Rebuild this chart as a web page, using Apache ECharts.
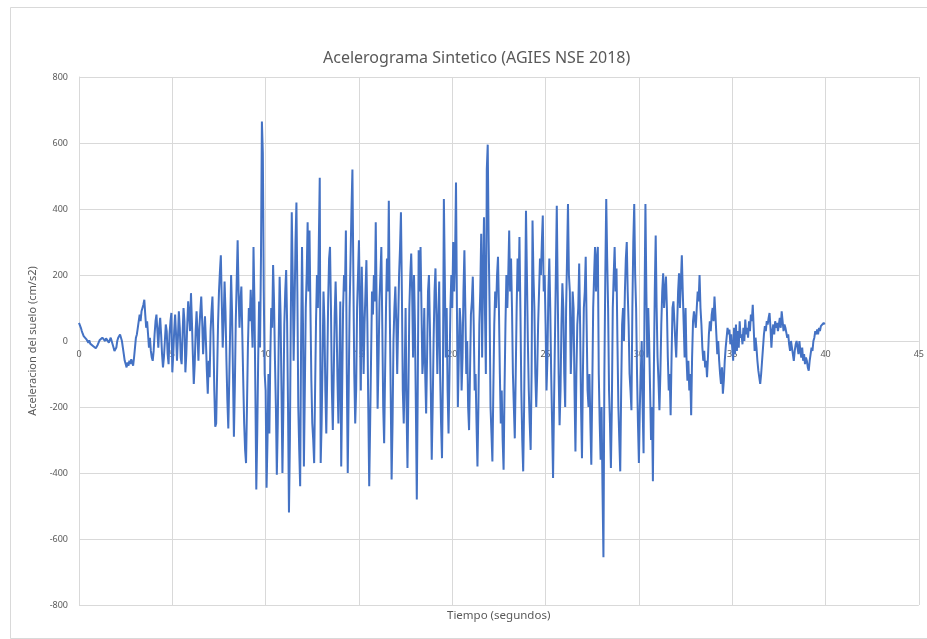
<!DOCTYPE html>
<html>
<head>
<meta charset="utf-8">
<script src="https://cdn.jsdelivr.net/npm/echarts@6/dist/echarts.min.js"></script>
<style>html,body{margin:0;padding:0;background:#fff}#c{width:927px;height:639px}</style>
</head>
<body>
<div id="c"></div>
<script>
// Sample step (s) and acceleration values (cm/s2), one array per 5 s
const DT = 0.05;
const seg0 = [55,50,40,30,22,15,10,12,5,0, -5,2,-8,-12,-5,-15,-10,-18,-22,-20, -12,-5,2,8,5,10,12,5,0,8, 12,5,-5,0,10,5,-10,-20,-30,-35, -20,0,10,15,20,10,0,-20,-40,-60, -70,-80,-65,-75,-60,-70,-55,-65,-75,-50, -20,10,20,40,60,80,60,90,100,110, 125,80,40,60,20,-20,10,-30,-50,-60, -30,20,60,80,30,-20,40,70,20,-40, -80,-50,0,50,30,-40,-70,20,60,85];
const seg1 = [-95,-40,30,80,20,-60,10,90,40,-50, -70,20,100,60,-95,-40,50,120,80,30, 145,60,-40,-130,-70,30,90,20,-60,40, 90,135,60,-40,20,75,0,-90,-160,-60, -110,30,90,135,20,-150,-260,-250,-100,50, 150,210,260,120,-20,60,180,90,-60,-180, -265,-120,40,200,90,-100,-290,-140,60,180, 305,150,40,120,165,20,-120,-250,-330,-370, -200,-20,100,60,155,70,-20,285,120,-150, -450,-280,-60,120,-20,250,665,570,150,-100];
const seg2 = [-150,-445,-300,-100,-280,-50,100,40,230,120, -60,-200,-405,-250,0,195,80,-150,-400,-200, 50,150,215,60,-200,-520,-300,80,390,200, -60,100,300,420,150,-200,-330,-440,0,285, 60,-380,-150,100,200,360,150,335,100,-120, -250,-300,-370,-150,60,200,100,300,495,-370, -250,-60,150,60,-150,-280,-100,120,250,285, 100,-150,-270,-100,80,180,60,-120,-250,-80, 120,-380,-150,100,200,150,335,-100,-400,-150, 100,250,400,520,200,-100,-250,-150,100,200];
const seg3 = [305,100,-150,225,80,-100,50,150,245,60, -200,-440,-250,-50,150,80,200,120,360,100, -205,-60,120,200,285,50,-200,-310,-100,100, 250,150,425,100,-150,-420,-250,0,100,165, 60,-100,50,200,280,390,150,-150,-250,-100, 100,-200,-385,-150,100,200,265,150,-50,200, 50,-200,-480,-150,275,150,285,100,-100,-50, 100,-100,-220,-50,150,200,50,-150,-360,-200, 0,150,220,80,-100,60,180,-100,-250,-355, -100,430,200,-50,100,-150,-280,-100,100,200];
const seg4 = [100,300,150,250,480,100,-200,-50,100,50, -150,-50,150,275,100,-100,0,-200,-270,-100, 80,120,195,50,-150,-100,-250,-380,-200,50, 150,325,-50,200,375,100,-100,520,595,300, 100,-200,-280,-365,-150,50,150,100,200,255, 100,-100,-250,-150,-300,-390,-150,50,200,100, 200,335,150,250,100,-100,-200,-295,-100,100, 250,150,315,100,-150,-300,-395,-200,100,395, 200,0,-150,-250,-330,-100,365,200,100,-100, -200,-100,50,150,250,200,300,380,150,200];
const seg5 = [50,-150,-50,150,250,100,-100,-250,-415,-200, 0,200,410,150,-100,-255,-150,50,175,100, -100,-200,100,250,415,200,150,-100,0,150, 100,-150,-335,-100,50,100,235,50,-200,-355, -100,100,150,255,50,-150,-200,-100,-250,-375, -150,100,200,285,150,250,285,-100,-250,-360, -200,-450,-655,-100,200,430,250,100,-150,-250, -385,-200,100,200,285,150,220,0,-200,-300, -395,-150,50,100,0,150,250,300,150,50, -100,-150,-210,100,300,415,200,100,-100,-250];
const seg6 = [-370,-200,-100,0,-200,-340,100,415,150,-50, 100,0,-150,-300,-200,-425,-100,150,320,100, -50,-120,-210,-100,50,150,205,100,150,195, 100,-50,-150,-100,-225,-50,100,120,60,0, -50,50,150,205,100,180,260,150,50,-50, 100,-50,-120,-60,-150,-100,-225,-50,60,90, 90,40,100,150,120,200,100,50,-20,-60, -30,-80,-60,-110,-50,20,60,30,80,100, 60,135,80,20,-40,0,-60,-100,-130,-80, -160,-120,-60,-20,10,40,20,35,-10,20];
const seg7 = [-20,-60,40,-40,50,-30,30,-20,60,10, 20,-10,40,0,65,20,40,10,60,30, 80,60,110,40,-30,10,-20,-60,-90,-110, -130,-100,-60,-20,20,45,30,60,50,70, 85,40,-20,30,50,20,60,40,55,30, 50,70,40,90,60,30,50,40,25,10, 20,-10,-30,0,-20,-40,-60,-30,-10,0, -20,-40,0,-30,-50,-20,-60,-40,-70,-50, -60,-80,-90,-60,-40,-20,-30,0,10,30, 20,35,20,40,30,45,50,45,55,50];
const lastValue = [55];

// Axis ticks
const xMin = 0, xMax = 45, xStep = 5;
const yMin = -800, yMax = 800, yStep = 200;

const titleText = 'Acelerograma Sintetico (AGIES NSE 2018)';
const xName = 'Tiempo (segundos)';
const yName = 'Aceleracion del suelo (cm/s2)';

const accel = [].concat(seg0, seg1, seg2, seg3, seg4, seg5, seg6, seg7, lastValue);
const points = accel.map((v, i) => [Math.round(i * DT * 100) / 100, v]);

const chart = echarts.init(document.getElementById('c'), null, {renderer: 'canvas'});
const gridColor = '#d9d9d9';
const textColor = '#595959';
chart.setOption({
  animation: false,
  backgroundColor: '#ffffff',
  title: {
    text: titleText,
    left: 318,
    top: 45,
    textStyle: {fontFamily: 'Noto Sans', fontSize: 16, fontWeight: 'normal', color: textColor}
  },
  graphic: [
    {type: 'rect', left: 8, top: 5, shape: {width: 917, height: 631}, style: {fill: 'none', stroke: gridColor, lineWidth: 1}, silent: true, z: -1},
    {type: 'text', left: 447, top: 610, style: {text: xName, fontFamily: 'Noto Sans', fontSize: 11.5, fill: textColor}}
  ],
  grid: {left: 79, right: 6, top: 77, bottom: 34, containLabel: false},
  xAxis: {
    type: 'value', min: xMin, max: xMax, interval: xStep,
    position: 'bottom', offset: -264, z: 0,
    axisLine: {show: false, onZero: false},
    axisTick: {show: false},
    axisLabel: {color: textColor, fontSize: 9, fontFamily: 'Noto Sans', margin: 9},
    splitLine: {show: true, lineStyle: {color: gridColor, width: 1}}
  },
  yAxis: {
    type: 'value', min: yMin, max: yMax, interval: yStep,
    name: yName, nameLocation: 'middle', nameGap: 33,
    nameTextStyle: {color: textColor, fontSize: 11, fontFamily: 'Noto Sans'},
    axisLine: {show: true, onZero: false, lineStyle: {color: gridColor}},
    axisTick: {show: false},
    axisLabel: {color: textColor, fontSize: 9, fontFamily: 'Noto Sans', margin: 11},
    splitLine: {show: true, lineStyle: {color: gridColor, width: 1}}
  },
  series: [{
    type: 'line',
    z: 5,
    data: points,
    showSymbol: false,
    symbol: 'none',
    sampling: null,
    lineStyle: {color: '#4472C4', width: 2},
    itemStyle: {color: '#4472C4'}
  }]
});
</script>
</body>
</html>
